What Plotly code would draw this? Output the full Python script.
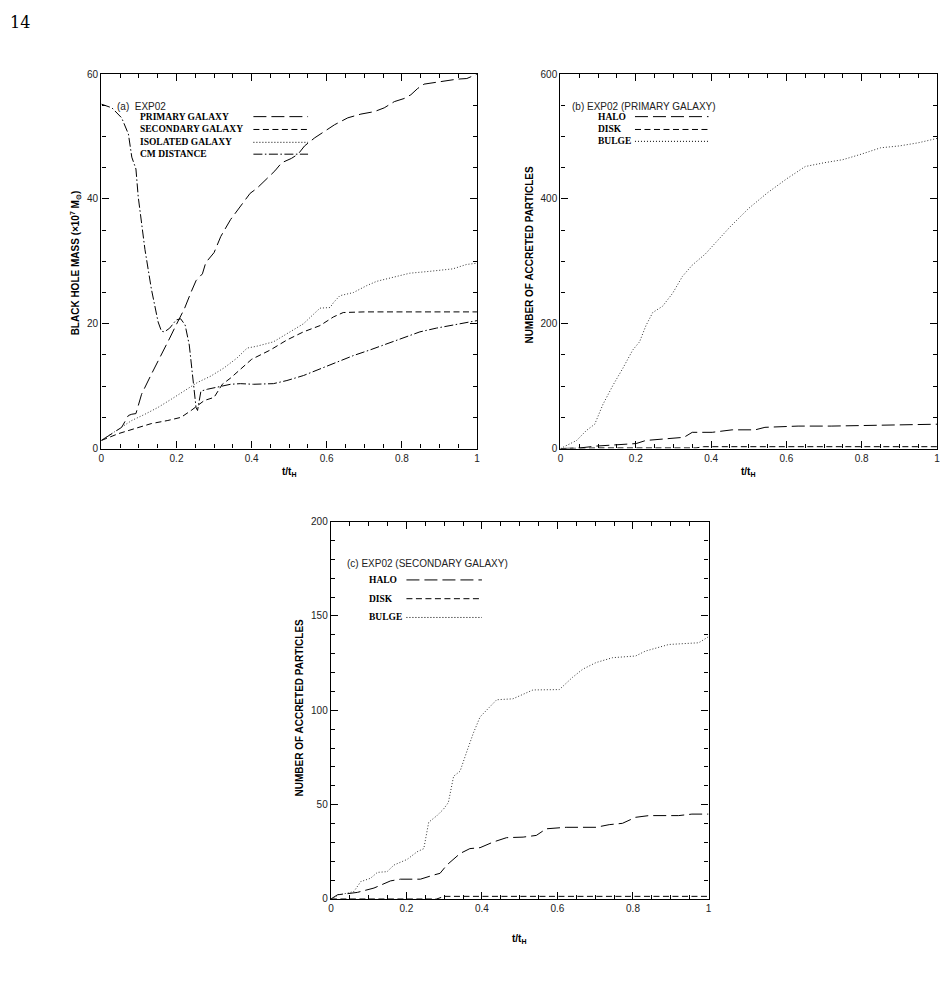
import plotly.graph_objects as go

# ---------------- Panel (a): black hole mass (x10^7 Msun) ----------------
a_primary_t = [0, .028, .054, .072, .081, .092, .107, .133, .160, .182, .199, .221, .239, .252, .269, .278, .300,
               .318, .344, .370, .396, .414, .440, .462, .480, .506, .524, .541, .568, .594, .621, .656, .691, .727,
               .753, .780, .806, .824, .842, .859, .894, .920, .947, .973, 1.0]
a_primary_m = [1.3, 2.4, 3.4, 5.3, 5.5, 5.6, 8.7, 11.9, 15.0, 17.7, 19.8, 22.4, 25.1, 26.9, 28.0, 29.8, 31.4,
               34.0, 36.7, 38.8, 40.9, 41.7, 43.3, 44.5, 45.8, 46.5, 47.2, 48.5, 49.8, 50.9, 51.9, 53.0, 53.6, 54.0,
               54.6, 55.6, 56.1, 56.7, 57.7, 58.4, 58.7, 59.0, 59.2, 59.3, 60.0]
a_secondary_t = [0, .046, .089, .133, .177, .212, .239, .256, .274, .300, .322, .344, .370, .400, .450, .494,
                 .538, .582, .618, .644, .700, .800, .900, 1.0]
a_secondary_m = [1.3, 2.4, 3.2, 4.0, 4.5, 5.0, 6.1, 6.9, 7.7, 8.2, 10.3, 11.3, 12.7, 14.3, 15.8, 17.4,
                 18.7, 19.7, 21.1, 21.8, 21.9, 21.9, 21.9, 21.9]
a_isolated_t = [0, .046, .081, .116, .151, .186, .221, .256, .291, .326, .361, .388, .414, .458, .494, .538,
                .582, .609, .618, .635, .671, .706, .733, .777, .821, .874, .936, .972, 1.0]
a_isolated_m = [1.3, 3.2, 4.5, 5.5, 6.6, 7.9, 9.2, 10.6, 11.6, 12.9, 14.5, 16.1, 16.4, 17.1, 18.4, 20.0,
                22.5, 22.6, 23.4, 24.5, 25.0, 26.1, 26.8, 27.5, 28.1, 28.4, 28.8, 29.5, 29.7]
a_cm_t = [0, .028, .054, .072, .081, .089, .092, .098, .116, .133, .151, .160, .168, .182, .199, .211, .223,
          .234, .243, .252, .256, .265, .282, .309, .344, .370, .405, .458, .494, .538, .582, .627, .671, .715,
          .759, .804, .848, .892, .936, 1.0]
a_cm_m = [55.2, 54.6, 53.0, 50.4, 46.7, 45.0, 44.8, 40.4, 31.9, 25.6, 20.3, 18.8, 18.7, 19.3, 20.6, 20.8, 19.8,
          16.6, 11.3, 6.6, 6.1, 9.2, 9.5, 9.8, 10.3, 10.4, 10.3, 10.4, 10.9, 11.7, 12.8, 13.9, 14.9, 15.8,
          16.8, 17.7, 18.7, 19.3, 19.8, 20.5]

# ---------------- Panel (b): primary galaxy accreted particles ----------------
b_halo_t = [0, .052, .096, .122, .201, .227, .263, .306, .328, .350, .403, .456, .517, .543, .587, .631, .719,
            .807, .842, 1.0]
b_halo_n = [0, 1, 4, 5, 8, 13, 15, 17, 18, 26, 26, 30, 30, 34, 35, 36, 36, 37, 38, 39]
b_disk_t = [0, .10, .30, .36, .38, 1.0]
b_disk_n = [0, 1, 1, 1, 3, 3]
b_bulge_t = [0, .043, .069, .091, .113, .140, .166, .192, .210, .227, .245, .271, .298, .324, .350, .385,
             .40, .45, .50, .55, .60, .65, .70, .75, .80, .85, .90, .95, 1.0]
b_bulge_n = [0, 13, 29, 39, 71, 102, 129, 158, 171, 197, 218, 228, 249, 276, 294, 312,
             322, 355, 385, 410, 432, 452, 458, 463, 472, 482, 485, 490, 497]

# ---------------- Panel (c): secondary galaxy accreted particles ----------------
c_halo_t = [0, .018, .035, .070, .114, .158, .184, .237, .272, .289, .307, .342, .368, .395, .430, .465, .509,
            .544, .570, .623, .702, .737, .772, .807, .842, .921, .956, 1.0]
c_halo_n = [0, 2.3, 2.6, 3.5, 5.8, 9.6, 10.5, 10.5, 12.7, 13.6, 18.0, 24.1, 26.7, 27.2, 30.2, 32.5, 32.8,
            33.7, 37.2, 38.0, 38.0, 39.4, 40.1, 43.3, 44.2, 44.2, 45.0, 45.0]
c_disk_t = [0, .10, .28, .30, 1.0]
c_disk_n = [0, 0, 0, 1.4, 1.4]
c_bulge_t = [0, .022, .044, .061, .079, .105, .123, .149, .167, .202, .228, .246, .259, .281, .298, .311,
             .325, .342, .360, .377, .395, .412, .439, .482, .509, .535, .605, .640, .667, .702, .746, .807,
             .833, .895, .974, 1.0]
c_bulge_n = [0, 2.3, 3.1, 4.0, 9.2, 11.0, 14.1, 14.5, 18.0, 21.0, 25.0, 26.7, 40.7, 44.2, 47.6, 51.1,
             65.1, 67.7, 78.2, 87.8, 96.5, 100.0, 105.6, 106.1, 108.7, 110.8, 111.0, 117.5, 121.8, 125.3, 127.9,
             128.8, 131.4, 134.9, 135.8, 139.0]

LONG = "13px,5px"
SHORT = "6px,3.5px"
DOT = "1px,2px"
DASHDOT = "9px,2.5px,1.5px,2.5px"

fig = go.Figure()

def add(x, y, dash, xa, ya, color="black"):
    fig.add_trace(go.Scatter(x=x, y=y, mode="lines", xaxis=xa, yaxis=ya, showlegend=False,
                             line=dict(color=color, width=1, dash=dash), hoverinfo="skip"))

add(a_primary_t, a_primary_m, LONG, "x", "y")
add(a_secondary_t, a_secondary_m, SHORT, "x", "y")
add(a_isolated_t, a_isolated_m, DOT, "x", "y", "#333")
add(a_cm_t, a_cm_m, DASHDOT, "x", "y")

add(b_halo_t, b_halo_n, LONG, "x2", "y2")
add(b_disk_t, b_disk_n, SHORT, "x2", "y2")
add(b_bulge_t, b_bulge_n, DOT, "x2", "y2", "#333")

add(c_halo_t, c_halo_n, LONG, "x3", "y3")
add(c_disk_t, c_disk_n, SHORT, "x3", "y3")
add(c_bulge_t, c_bulge_n, DOT, "x3", "y3", "#333")

W, H = 948, 986
def px(x): return x / W
def py(y): return 1 - y / H

tickfont = dict(family="Liberation Sans, Arial, sans-serif", size=10, color="#222")

def xaxis(dom, anchor):
    return dict(domain=dom, anchor=anchor, range=[0, 1], tickvals=[0, .2, .4, .6, .8, 1],
                ticktext=["0", "0.2", "0.4", "0.6", "0.8", "1"],
                ticks="inside", ticklen=7, tickwidth=1, tickcolor="black",
                minor=dict(ticks="inside", ticklen=4, dtick=0.05, tickcolor="black", tickwidth=1),
                showline=True, linecolor="black", linewidth=1.4, mirror="allticks",
                showgrid=False, zeroline=False, tickfont=tickfont, fixedrange=True)

def yaxis(dom, anchor, top, major, minor):
    return dict(domain=dom, anchor=anchor, range=[0, top], dtick=major, tick0=0,
                ticks="inside", ticklen=7, tickwidth=1, tickcolor="black",
                minor=dict(ticks="inside", ticklen=4, dtick=minor, tickcolor="black", tickwidth=1),
                showline=True, linecolor="black", linewidth=1.4, mirror="allticks",
                showgrid=False, zeroline=False, tickfont=tickfont, fixedrange=True)

fig.update_layout(
    width=W, height=H, margin=dict(l=0, r=0, t=0, b=0),
    paper_bgcolor="white", plot_bgcolor="white", showlegend=False,
    xaxis=xaxis([px(99), px(477)], "y"),
    yaxis=yaxis([py(448), py(69)], "x", 60, 20, 5),
    xaxis2=xaxis([px(561), px(940)], "y2"),
    yaxis2=yaxis([py(448), py(69)], "x2", 600, 200, 50),
    xaxis3=xaxis([px(330), px(710)], "y3"),
    yaxis3=yaxis([py(904), py(522)], "x3", 200, 50, 10),
)

ann = []
def text(x, y, s, font, xanchor="left", angle=0):
    ann.append(dict(x=px(x), y=py(y), xref="paper", yref="paper", text=s, showarrow=False,
                    xanchor=xanchor, yanchor="middle", font=font, textangle=angle))

sans = dict(family="Liberation Sans, Arial, sans-serif", size=10, color="#222")
bold = dict(family="Liberation Serif, Times New Roman, serif", size=9.5, color="black")
axt = dict(family="Liberation Sans Narrow, Liberation Sans, Arial, sans-serif", size=10, color="black")

# page number
text(5, 17, "14", dict(family="DejaVu Serif, Liberation Serif, serif", size=16, color="black"))

# panel (a) legend
text(113, 102, "(a)  EXP02", sans)
leg_a = [("PRIMARY GALAXY", LONG, 112), ("SECONDARY GALAXY", SHORT, 125),
         ("ISOLATED GALAXY", DOT, 138), ("CM DISTANCE", DASHDOT, 150)]
shapes = []
for lab, d, y in leg_a:
    text(136, y, "<b>" + lab + "</b>", bold)
    shapes.append(dict(type="line", xref="paper", yref="paper", x0=px(252), x1=px(307), y0=py(y), y1=py(y),
                       line=dict(color="black", width=1, dash=d)))

# panel (b) legend
text(571, 102, "(b) EXP02 (PRIMARY GALAXY)", sans)
for lab, d, y in [("HALO", LONG, 112), ("DISK", SHORT, 125), ("BULGE", DOT, 137)]:
    text(597, y, "<b>" + lab + "</b>", bold)
    shapes.append(dict(type="line", xref="paper", yref="paper", x0=px(636), x1=px(710), y0=py(y), y1=py(y),
                       line=dict(color="black", width=1, dash=d)))

# panel (c) legend
text(344, 564, "(c) EXP02 (SECONDARY GALAXY)", sans)
for lab, d, y in [("HALO", LONG, 581), ("DISK", SHORT, 600), ("BULGE", DOT, 619)]:
    text(366, y, "<b>" + lab + "</b>", bold)
    shapes.append(dict(type="line", xref="paper", yref="paper", x0=px(406), x1=px(482), y0=py(y), y1=py(y),
                       line=dict(color="black", width=1, dash=d)))

# axis titles
xt = "<b>t/t<sub>H</sub></b>"
text(288, 472, xt, axt, "center")
text(750, 472, xt, axt, "center")
text(520, 944, xt, axt, "center")
text(73, 260, "<b>BLACK HOLE MASS (×10<sup>7</sup> M<sub>⊙</sub>)</b>", axt, "center", -90)
text(530, 252, "<b>NUMBER OF ACCRETED PARTICLES</b>", axt, "center", -90)
text(298, 710, "<b>NUMBER OF ACCRETED PARTICLES</b>", axt, "center", -90)

fig.update_layout(annotations=ann, shapes=shapes)
fig.write_html("out.html")
